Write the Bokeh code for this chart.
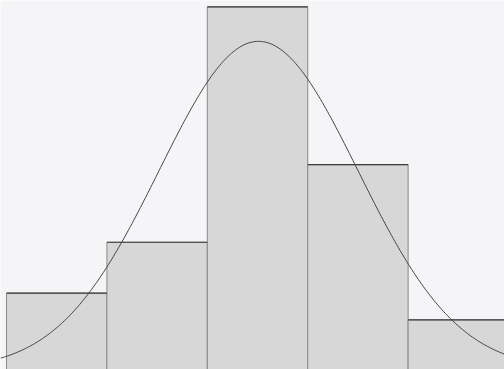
import numpy as np
from bokeh.plotting import figure
from bokeh.embed import file_html
from bokeh.resources import INLINE

# Histogram bins (class edges) and counts per class
bin_edges = [0, 1, 2, 3, 4, 5]
counts = [3.0, 5.0, 14.25, 8.05, 1.95]

# Fitted normal distribution overlaid on the histogram
n_obs = 32
fit_mean = 2.51
fit_sd = 0.99

left = bin_edges[:-1]
right = bin_edges[1:]

p = figure(width=504, height=369, x_range=(-0.06, 4.96), y_range=(0, 14.5),
           output_backend="svg", toolbar_location=None, min_border=0)
p.axis.visible = False
p.grid.visible = False
p.outline_line_color = None
p.background_fill_color = "#f5f5f7"
p.border_fill_color = "#f5f5f7"

# Bars
p.quad(left=left, right=right, bottom=0, top=counts,
       fill_color="#d7d7d7", line_color="#8a8a8a", line_width=1)
# Darker top edges of each bar
p.segment(x0=left, y0=counts, x1=right, y1=counts, line_color="#3c3c3c", line_width=1.2)

# Normal density curve scaled to counts (bin width 1)
xs = np.linspace(-0.06, 4.96, 300)
ys = n_obs / (fit_sd * np.sqrt(2 * np.pi)) * np.exp(-0.5 * ((xs - fit_mean) / fit_sd) ** 2)
p.line(xs, ys, line_color="#454545", line_width=1)

open("out.html", "w").write(file_html(p, INLINE))
